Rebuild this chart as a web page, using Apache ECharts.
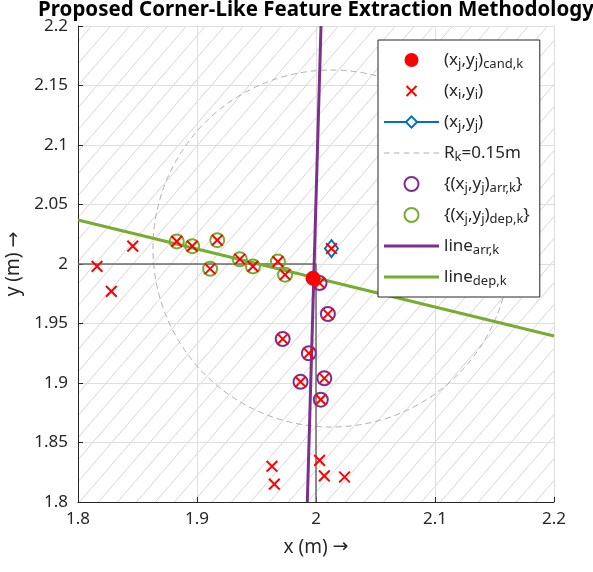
<!DOCTYPE html>
<html><head><meta charset="utf-8">
<script src="https://cdn.jsdelivr.net/npm/echarts@6/dist/echarts.min.js"></script>
<style>html,body{margin:0;padding:0;background:#fff}#c{width:593px;height:572px}</style>
</head><body><div id="c"></div>
<script>
// ---- data ----
const depX = [1.883, 1.896, 1.917, 1.911, 1.936, 1.947, 1.968, 1.974];
const depY = [2.019, 2.015, 2.020, 1.996, 2.004, 1.998, 2.002, 1.991];
const arrX = [2.003, 2.010, 1.972, 1.994, 1.987, 2.007, 2.004];
const arrY = [1.984, 1.958, 1.937, 1.925, 1.901, 1.904, 1.886];
const otherX = [1.816, 1.828, 1.846, 1.963, 1.965, 2.003, 2.007, 2.024, 2.013];
const otherY = [1.998, 1.977, 2.015, 1.830, 1.815, 1.835, 1.822, 1.821, 2.013];
const candPt = [1.9975, 1.988];
const xjPt = [2.013, 2.013];
const radiusK = 0.15;
const lineArrPts = [[1.9927, 1.8], [2.0042, 2.2]];
const lineDepPts = [[1.8, 2.037], [2.2, 1.9395]];
const refFrame = [[1.8, 2.0], [2.0, 2.0], [2.0, 1.8]];
const xRange = [1.8, 2.2];
const yRange = [1.8, 2.2];
const titleText = 'Proposed Corner-Like Feature Extraction Methodology';

const zip = (a, b) => a.map((v, i) => [v, b[i]]);
const allX = depX.concat(arrX, otherX);
const allY = depY.concat(arrY, otherY);

const FONT = 'Noto Sans';
const DARK = '#262626';

function hatch() {
  const w = 19, h = 22;
  const c = document.createElement('canvas');
  c.width = w; c.height = h;
  const g = c.getContext('2d');
  g.fillStyle = '#fff'; g.fillRect(0, 0, w, h);
  g.strokeStyle = '#d6d6d6'; g.lineWidth = 1;
  for (let k = -1; k <= 1; k++) {
    g.beginPath(); g.moveTo(k * w, h); g.lineTo(k * w + w, 0); g.stroke();
  }
  return c;
}

const xPath = 'path://M0,0M14,14M2,2L12,12M12,2L2,12';
const barPath = 'path://M0,0h55v3h-55z';
const dashPath = 'path://M0,0h5v1h-5zM9,0h5v1h-5zM18,0h5v1h-5zM27,0h5v1h-5zM36,0h5v1h-5zM45,0h5v1h-5z';

const labels = {
  cand: '(x{s|j},y{s|j}){s|cand,k}',
  xi: '(x{s|i},y{s|i})',
  xj: '(x{s|j},y{s|j})',
  Rk: 'R{s|k}=0.15m',
  arr: '{(x{s|j},y{s|j}){s|arr,k}}',
  dep: '{(x{s|j},y{s|j}){s|dep,k}}',
  larr: 'line{s|arr,k}',
  ldep: 'line{s|dep,k}'
};

const nameStyle = {
  fontFamily: FONT, fontSize: 19, color: DARK,
  rich: { ar: { fontFamily: 'DejaVu Sans', fontSize: 19, color: DARK } }
};

const axisCommon = {
  type: 'value',
  axisLine: { onZero: false, lineStyle: { color: DARK, width: 1 } },
  axisTick: { inside: true, length: 5, lineStyle: { color: DARK } },
  axisLabel: { fontFamily: FONT, fontSize: 17, color: DARK },
  splitLine: { show: true, lineStyle: { color: '#dedede', width: 1 } },
  nameLocation: 'middle',
  nameTextStyle: nameStyle
};

const chart = echarts.init(document.getElementById('c'));
chart.setOption({
  animation: false,
  graphic: [{
    type: 'text', x: 316, y: 0, z: 100,
    style: { text: titleText, font: 'bold 20.5px "Noto Sans"', fill: '#000', align: 'center', verticalAlign: 'top' }
  }],
  grid: {
    left: 78, top: 26, width: 476, height: 476, show: true, borderWidth: 0,
    backgroundColor: { image: hatch(), repeat: 'repeat' },
    outerBoundsMode: 'none', containLabel: false
  },
  xAxis: Object.assign({}, axisCommon, {
    min: xRange[0], max: xRange[1], interval: 0.1,
    name: 'x (m) {ar|→}', nameGap: 36,
    axisLabel: Object.assign({}, axisCommon.axisLabel, { margin: 9 })
  }),
  yAxis: Object.assign({}, axisCommon, {
    min: yRange[0], max: yRange[1], interval: 0.05,
    name: 'y (m) {ar|→}', nameGap: 52,
    axisLabel: Object.assign({}, axisCommon.axisLabel, { margin: 10 })
  }),
  legend: {
    orient: 'vertical', left: 378, top: 40,
    itemWidth: 55, itemHeight: 14, itemGap: 9,
    padding: [9, 10, 9, 5],
    backgroundColor: '#fff', borderColor: DARK, borderWidth: 1, borderRadius: 0,
    selectedMode: false,
    textStyle: {
      fontFamily: FONT, fontSize: 17, color: DARK, lineHeight: 22,
      rich: { s: { fontFamily: FONT, fontSize: 13, color: DARK, lineHeight: 9, verticalAlign: 'bottom' } }
    },
    formatter: n => labels[n],
    data: [
      { name: 'cand' },
      { name: 'xi' },
      { name: 'xj' },
      { name: 'Rk', icon: dashPath, itemStyle: { borderWidth: 0 } },
      { name: 'arr' },
      { name: 'dep' },
      { name: 'larr', icon: barPath, itemStyle: { borderWidth: 0 } },
      { name: 'ldep', icon: barPath, itemStyle: { borderWidth: 0 } }
    ]
  },
  series: [
    {
      type: 'line', name: 'frame', data: refFrame, symbol: 'none', silent: true,
      lineStyle: { color: '#6a6a6a', width: 1.5 }, z: 2
    },
    {
      type: 'custom', name: 'Rk', coordinateSystem: 'cartesian2d',
      itemStyle: { color: '#b0b0b0' },
      data: [[xjPt[0], xjPt[1], radiusK]],
      encode: { x: 0, y: 1 },
      renderItem: (params, api) => {
        const c = api.coord([api.value(0), api.value(1)]);
        const r = api.size([api.value(2), 0])[0];
        return {
          type: 'circle', silent: true,
          shape: { cx: c[0], cy: c[1], r: r },
          style: { fill: 'none', stroke: '#b0b0b0', lineWidth: 1, lineDash: [6, 4] }
        };
      }, z: 2
    },
    {
      type: 'line', name: 'larr', data: lineArrPts, symbol: 'none',
      itemStyle: { color: '#7E2F8E' }, lineStyle: { color: '#7E2F8E', width: 3 }, z: 3
    },
    {
      type: 'line', name: 'ldep', data: lineDepPts, symbol: 'none',
      itemStyle: { color: '#77AC30' }, lineStyle: { color: '#77AC30', width: 3 }, z: 3
    },
    {
      type: 'scatter', name: 'arr', data: zip(arrX, arrY), symbol: 'circle', symbolSize: 14,
      itemStyle: { color: 'transparent', borderColor: '#7E2F8E', borderWidth: 2, opacity: 1 }, z: 4
    },
    {
      type: 'scatter', name: 'dep', data: zip(depX, depY), symbol: 'circle', symbolSize: 14,
      itemStyle: { color: 'transparent', borderColor: '#77AC30', borderWidth: 2, opacity: 1 }, z: 4
    },
    {
      type: 'line', name: 'xj', data: [xjPt], symbol: 'emptyDiamond', symbolSize: [13, 17],
      showSymbol: true,
      itemStyle: { color: '#0072BD', borderWidth: 2, opacity: 1 }, lineStyle: { color: '#0072BD', width: 2 }, z: 5
    },
    {
      type: 'scatter', name: 'xi', data: zip(allX, allY), symbol: xPath, symbolSize: 15,
      itemStyle: { color: 'transparent', borderColor: '#FF0000', borderWidth: 2, opacity: 1 }, z: 6
    },
    {
      type: 'scatter', name: 'cand', data: [candPt], symbol: 'circle', symbolSize: 15,
      itemStyle: { color: '#FF0000', opacity: 1 }, z: 7
    }
  ]
});
</script>
</body></html>
